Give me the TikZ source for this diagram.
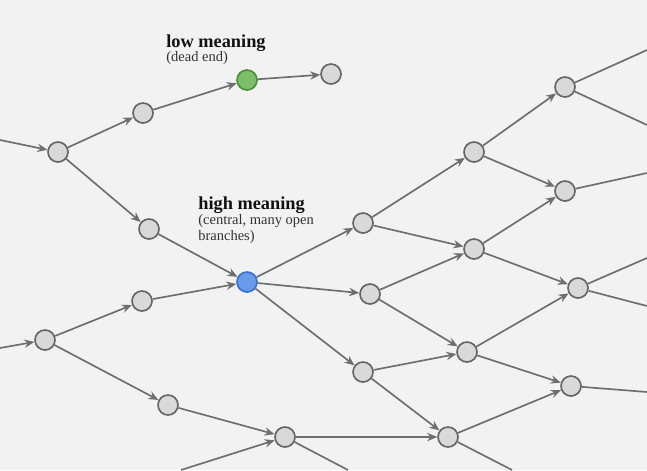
\documentclass[tikz,border=0pt]{standalone}
\usepackage{fontspec}
\setmainfont{Liberation Serif}
\usetikzlibrary{arrows.meta}

\definecolor{bgcol}{HTML}{F2F2F2}
\definecolor{edgecol}{HTML}{6E6E6E}
\definecolor{nodeline}{HTML}{666666}
\definecolor{nodefill}{HTML}{D9D9D9}
\definecolor{lowline}{HTML}{4E8E3A}
\definecolor{lowfill}{HTML}{7DBE69}
\definecolor{highline}{HTML}{3A6FD0}
\definecolor{highfill}{HTML}{6A9BEA}
\definecolor{headcol}{HTML}{111111}
\definecolor{subcol}{HTML}{333333}

\newcommand*{\picw}{647}
\newcommand*{\pich}{470}

\begin{document}
\begin{tikzpicture}
[
	x=0.6pt, y=-0.6pt,
	state/.style={circle,draw=nodeline,fill=nodefill,line width=1pt,inner sep=0pt,minimum size=12pt},
	lowpt/.style={state,draw=lowline,fill=lowfill},
	highpt/.style={state,draw=highline,fill=highfill},
	edge/.style={edgecol,line width=1pt,-{Stealth[length=6pt,width=5pt,inset=2pt]}},
	loose/.style={edgecol,line width=1pt},
	headtext/.style={anchor=base west,inner sep=0pt,font=\fontsize{11}{13}\selectfont\bfseries,text=headcol},
	subtext/.style={anchor=base west,inner sep=0pt,align=left,font=\fontsize{8.7}{9.6}\selectfont,text=subcol}
]

	% background
	\useasboundingbox (0,0) rectangle (\picw,\pich);
	\fill[bgcol] (0,0) rectangle (\picw,\pich);

	% states
	\node[state] (n1) at (58,152) {};
	\node[state] (n2) at (143,113) {};
	\node[lowpt] (low) at (247,80) {};
	\node[state] (n3) at (331,74) {};
	\node[state] (n4) at (149,229) {};
	\node[highpt] (high) at (247,282) {};
	\node[state] (n5) at (142,301) {};
	\node[state] (n6) at (45,340) {};
	\node[state] (n7) at (168,405) {};
	\node[state] (n8) at (285,437) {};
	\node[state] (n9) at (363,223) {};
	\node[state] (n10) at (370,294) {};
	\node[state] (n11) at (363,372) {};
	\node[state] (n12) at (474,152) {};
	\node[state] (n13) at (474,249) {};
	\node[state] (n14) at (467,352) {};
	\node[state] (n15) at (448,437) {};
	\node[state] (n16) at (565,87) {};
	\node[state] (n17) at (565,191) {};
	\node[state] (n18) at (578,288) {};
	\node[state] (n19) at (571,386) {};

	% free ends at the border
	\coordinate (inA) at (0,140);
	\coordinate (inB) at (0,348);
	\coordinate (inC) at (181,470);
	\coordinate (outA) at (348,470);
	\coordinate (outB) at (512,470);
	\coordinate (outC) at (\picw,50);
	\coordinate (outD) at (\picw,125);
	\coordinate (outE) at (\picw,173);
	\coordinate (outF) at (\picw,258);
	\coordinate (outG) at (\picw,306);
	\coordinate (outH) at (\picw,392);

	% branches
	\foreach \a/\b in {inA/n1,n1/n2,n1/n4,n2/low,low/n3,n4/high,n5/high,
		inB/n6,n6/n5,n6/n7,n7/n8,inC/n8,
		high/n9,high/n10,high/n11,n9/n12,n9/n13,n10/n13,n10/n14,
		n11/n14,n11/n15,n8/n15,n12/n16,n12/n17,n13/n17,n13/n18,
		n14/n18,n14/n19,n15/n19} {
		\draw[edge] (\a) -- (\b);
	}
	\foreach \a/\b in {n8/outA,n15/outB,n16/outC,n16/outD,n17/outE,
		n18/outF,n18/outG,n19/outH} {
		\draw[loose] (\a) -- (\b);
	}

	% labels
	\node[headtext] (lowhead) at (166,47) {low meaning};
	\node[subtext] (lowsub) at (166,61) {(dead end)};
	\node[headtext] (highhead) at (198,209) {high meaning};
	% base of a two-line node sits on its last line
	\node[subtext] (highsub) at (198,240) {(central, many open\\branches)};

\end{tikzpicture}
\end{document}
